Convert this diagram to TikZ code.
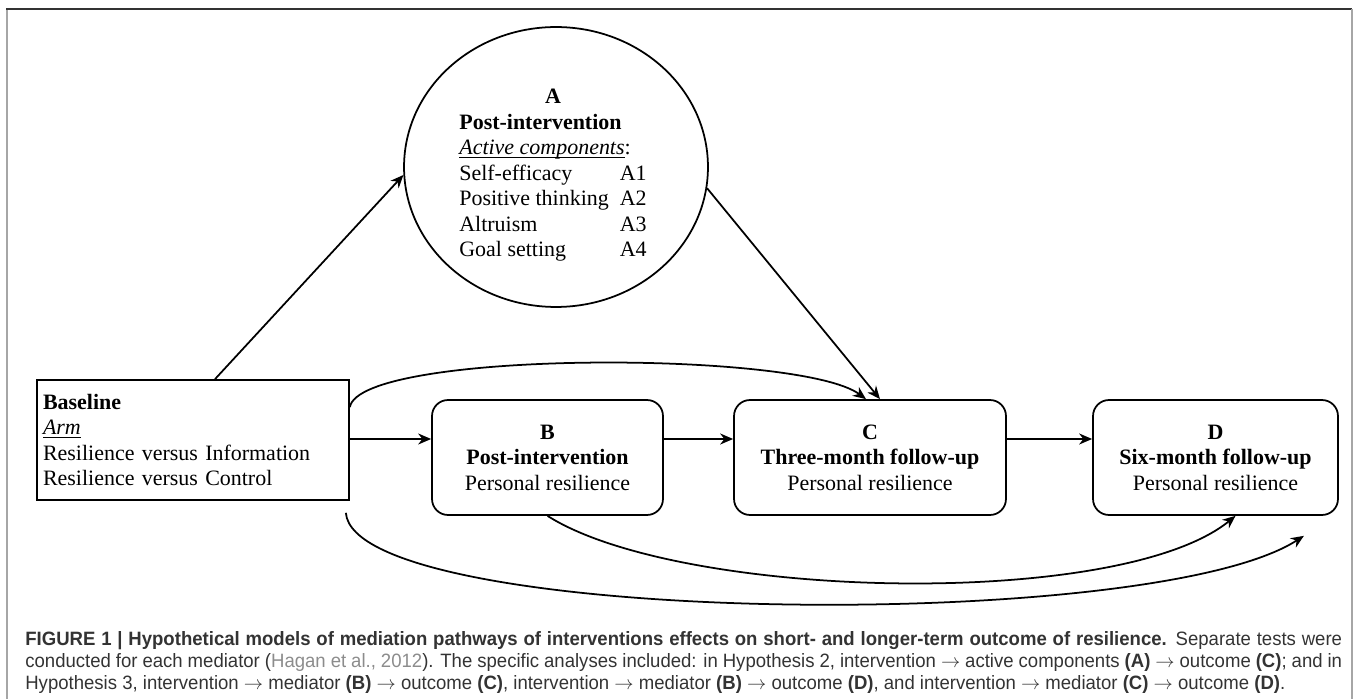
\documentclass[tikz,border=0pt]{standalone}
\usepackage{fontspec}
\setmainfont{Liberation Serif}
\setsansfont{Liberation Sans}[FakeStretch=0.96]
\usetikzlibrary{shapes.geometric,arrows.meta}

\begin{document}
\begin{tikzpicture}[
  x=0.02cm, y=-0.02cm,
  every node/.style={font=\fontsize{12.5}{14.5}\selectfont, align=center},
  basebox/.style={draw, line width=1pt, rectangle, minimum width=6.24cm, minimum height=2.4cm, text width=6cm, align=left, inner sep=0.12cm},
  stagebox/.style={draw, line width=1pt, rectangle, rounded corners=0.32cm, minimum height=2.3cm},
  compcircle/.style={draw, line width=1pt, ellipse, minimum width=6.08cm, minimum height=5.6cm, inner sep=0pt},
  arr/.style={draw, line width=1pt, -{Stealth[length=2.6mm,width=2.2mm]}},
  caption/.style={font=\sffamily\fontsize{11}{12.5}\selectfont, text=black!80, anchor=north west, align=left, inner sep=0pt}
]
\useasboundingbox (0,0) rectangle (1357,699);

% frame
\draw[gray!70, line width=1.2pt] (7,699) -- (7,9);
\draw[black!80, line width=1.2pt] (6,9) -- (1352,9);
\draw[gray!70, line width=1.2pt] (1352,9) -- (1352,699);

% Active components
\node[compcircle] (A) at (556,167) {};
\node (Atext) at (553,175) {\begin{tabular}{@{}l@{\hspace{0.5em}}l@{}}
  \multicolumn{2}{c}{\textbf{A}}\\
  \multicolumn{2}{@{}l@{}}{\textbf{Post-intervention}}\\
  \multicolumn{2}{@{}l@{}}{\underline{\smash{\textit{Active components}}}:}\\
  Self-efficacy & A1\\
  Positive thinking & A2\\
  Altruism & A3\\
  Goal setting & A4
\end{tabular}};

% Baseline and stages
\node[basebox] (base) at (193,440) {\textbf{Baseline}\\ \underline{\textit{Arm}}\\ Resilience versus Information\\ Resilience versus Control};
\node[stagebox, minimum width=4.62cm] (B) at (547.5,457.5) {\textbf{B}\\ \textbf{Post-intervention}\\ Personal resilience};
\node[stagebox, minimum width=5.44cm] (C) at (870,457.5) {\textbf{C}\\ \textbf{Three-month follow-up}\\ Personal resilience};
\node[stagebox, minimum width=4.9cm] (D) at (1215.5,457.5) {\textbf{D}\\ \textbf{Six-month follow-up}\\ Personal resilience};
\coordinate (row) at (0,439);

% Pathways
\draw[arr] ([xshift=0.44cm]base.north) -- (A.183);
\draw[arr] (A.352) -- ([xshift=0.2cm]C.north);
\draw[arr] ([yshift=-0.56cm]base.north east) .. controls (360,350) and (800,350) .. ([xshift=-0.08cm]C.north);
\draw[arr] (base.east |- row) -- (B.west |- row);
\draw[arr] (B.east |- row) -- (C.west |- row);
\draw[arr] (C.east |- row) -- (D.west |- row);
\draw[arr] (B.south) .. controls (680,600) and (1120,610) .. ([xshift=0.4cm]D.south);
\draw[arr] ([shift={(-0.08cm,-0.24cm)}]base.south east) .. controls (355,625) and (1150,635) .. ([shift={(-0.7cm,-0.4cm)}]D.south east);

% Caption
\node[caption] (cap) at (25,631) {\makebox[26.34cm][s]{\textbf{FIGURE 1 | Hypothetical models of mediation pathways of interventions effects on short- and longer-term outcome of resilience.} Separate tests were}\\
\makebox[26.34cm][s]{conducted for each mediator ({\color{black!45}Hagan et al., 2012}). The specific analyses included: in Hypothesis 2, intervention $\rightarrow$ active components \textbf{(A)} $\rightarrow$ outcome \textbf{(C)}; and in}\\
Hypothesis 3, intervention $\rightarrow$ mediator \textbf{(B)} $\rightarrow$ outcome \textbf{(C)}, intervention $\rightarrow$ mediator \textbf{(B)} $\rightarrow$ outcome \textbf{(D)}, and intervention $\rightarrow$ mediator \textbf{(C)} $\rightarrow$ outcome \textbf{(D)}.};
\end{tikzpicture}
\end{document}
